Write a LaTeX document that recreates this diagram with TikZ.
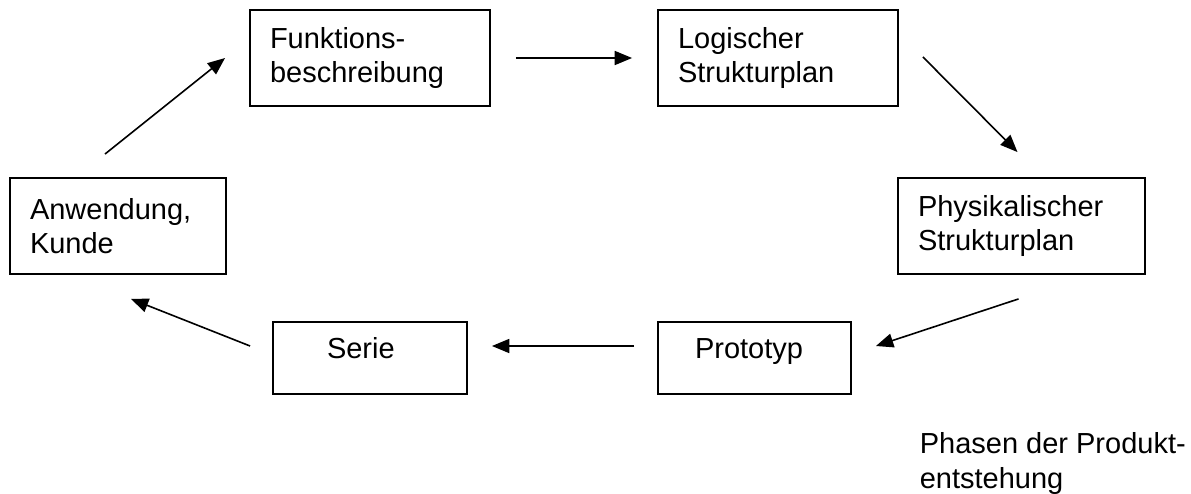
\documentclass[tikz,border=0pt]{standalone}
\usepackage{fontspec}
\setmainfont{Liberation Sans}
\usetikzlibrary{arrows.meta,calc}

\newcommand{\phasefont}{\fontsize{21.75}{26}\selectfont}

\tikzset{every picture/.style={line width=1.2pt}}
\tikzset{
  phase/.style={draw, line width=1.4pt, inner xsep=15pt, inner ysep=0pt, align=left, minimum height=72pt, font=\phasefont},
  single/.style={phase, minimum height=0pt, text height=27pt, text depth=27pt},
  arr/.style={-{Triangle[length=13pt,width=10.5pt]}, line width=1.2pt}
}

\begin{document}
\begin{tikzpicture}[x=0.75pt,y=0.75pt,yscale=-1,xscale=1]
\useasboundingbox (0,0) rectangle (1191,493);

% Boxes
\node [phase, text width=150pt] (fkt) at (370,58) {Funktions-\\beschreibung};
\node [phase, text width=150pt] (log) at (778,58) {Logischer\\Strukturplan};
\node [phase, text width=155.25pt] (phy) at (1021.5,226) {Physikalischer\\Strukturplan};
\node [phase, text width=132pt] (anw) at (118,226) {Anwendung,\\Kunde};
\node [single, inner xsep=40.5pt, text width=64.5pt] (ser) at (370,358) {Serie};
\node [single, inner xsep=27.75pt, text width=89.25pt] (pro) at (754.5,358) {Prototyp};

% Arrows
\draw [arr] ($(anw.north)+(-13,-23)$) -- ($(fkt.west)+(-24,0)$);
\draw [arr] ($(fkt.east)+(25,0)$) -- ($(log.west)+(-25,0)$);
\draw [arr] ($(log.east)+(24,-1)$) -- ($(phy.north)+(-4,-25)$);
\draw [arr] ($(phy.south)+(-3,24)$) -- ($(pro.east)+(24,-12)$);
\draw [arr] ($(pro.west)+(-23,-12)$) -- ($(ser.east)+(24,-12)$);
\draw [arr] ($(ser.west)+(-22,-12)$) -- ($(anw.south)+(13,24)$);

% Text Node
\node [anchor=north west, inner sep=0pt, align=left, font=\phasefont] (caption) at (919,432) {Phasen der Produkt-\\entstehung};

\end{tikzpicture}
\end{document}
